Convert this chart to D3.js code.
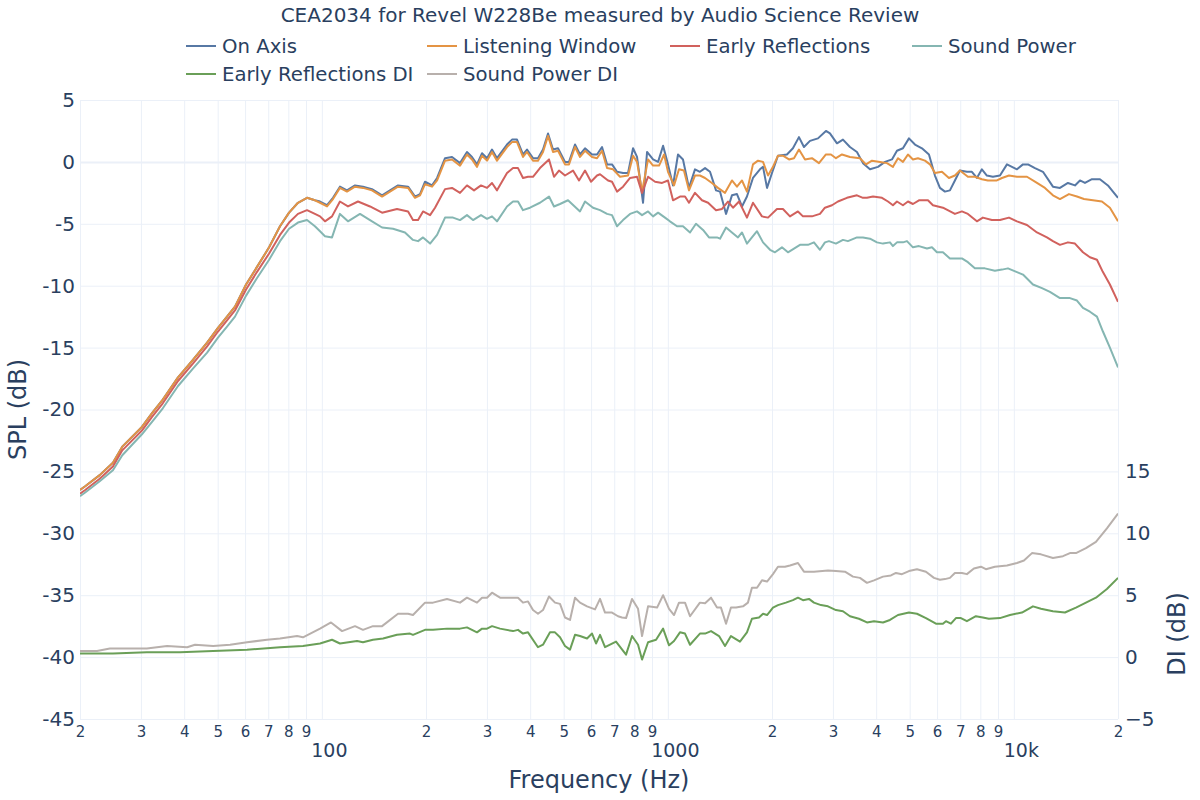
<!DOCTYPE html>
<html>
<head>
<meta charset="utf-8">
<script src="https://cdn.jsdelivr.net/npm/d3@7"></script>
<style>
  body { margin: 0; background: #fff; }
  text { font-family: "DejaVu Sans", Verdana, sans-serif; fill: #2a3f5f; }
</style>
</head>
<body>
<div id="chart"></div>
<script>
// Data (frequency Hz, dB)
const chartTitle = "CEA2034 for Revel W228Be measured by Audio Science Review";

const onAxis = [[20,-26.5],[20.7,-26.2],[22.8,-25.3],[24.9,-24.3],[26.5,-23.0],[30.2,-21.4],[32.3,-20.3],[34.7,-19.2],[38.4,-17.4],[42.4,-16.0],[46.6,-14.6],[50.1,-13.4],[53.2,-12.5],[56.1,-11.7],[60.4,-9.9],[64.9,-8.5],[70.4,-6.9],[75.7,-5.2],[80.4,-4.1],[85.3,-3.3],[90.6,-2.9],[95.5,-3.1],[98.8,-3.2],[103.5,-3.5],[107.7,-2.9],[112.8,-2.0],[118.2,-2.3],[124.7,-1.9],[131.5,-2.0],[139.6,-2.2],[149.3,-2.7],[157.4,-2.3],[166,-1.9],[177.5,-2.0],[185.9,-2.8],[192.2,-2.6],[198.7,-1.6],[208.2,-1.9],[215.3,-1.3],[227,0.3],[237.8,0.4],[250.8,-0.1],[262.7,0.8],[271.6,0.4],[280.8,-0.2],[290.4,0.7],[300.2,0.3],[310.3,1.0],[320.8,0.3],[342.9,1.4],[354.5,1.8],[366.5,1.8],[381.4,0.6],[391.7,1.0],[407.6,0.3],[421.4,0.3],[435.7,1.0],[450.5,2.3],[465.7,1.0],[481.4,1.1],[504.4,0.0],[518,0.0],[539.1,1.4],[557.4,0.6],[576.3,1.1],[603.8,0.6],[624.2,0.6],[645.3,1.2],[667.2,-0.2],[689.7,-0.2],[713.1,-0.8],[742.2,-0.9],[767.3,-0.9],[793.3,1.1],[814.6,0.4],[847.9,-3.3],[870.8,0.8],[906.3,0.2],[937,0.0],[968.8,1.3],[1001,-0.2],[1035,-1.9],[1070,0.6],[1106,0.2],[1151,-2.1],[1198,-0.6],[1238,-0.8],[1281,-0.5],[1324,-0.8],[1378,-2.3],[1415,-2.4],[1473,-4.2],[1532,-2.7],[1584,-2.6],[1638,-3.6],[1693,-2.8],[1762,-1.3],[1846,-0.6],[1884,-0.4],[1935,-2.1],[2000,-0.9],[2081,0.5],[2209,0.6],[2299,1.1],[2393,2.0],[2474,1.2],[2575,1.7],[2716,1.9],[2864,2.5],[2941,2.3],[3082,1.5],[3207,1.8],[3360,1.2],[3520,0.8],[3664,-0.1],[3839,-0.6],[4049,-0.4],[4242,0.0],[4444,0.2],[4594,0.9],[4781,1.1],[4976,1.9],[5179,1.4],[5425,1.1],[5684,0.6],[5915,-1.1],[6115,-2.1],[6322,-2.4],[6535,-2.3],[6756,-1.5],[6984,-0.7],[7317,-0.8],[7564,-0.8],[7820,-1.3],[8084,-0.6],[8357,-1.1],[8698,-1.2],[9118,-1.1],[9553,-0.2],[10210,-0.6],[10626,-0.2],[10986,-0.2],[11509,-0.5],[12138,-0.8],[12971,-2.0],[13591,-2.1],[14335,-1.7],[15019,-1.9],[15527,-1.5],[16053,-1.7],[16816,-1.4],[17734,-1.4],[18702,-1.9],[20000,-2.9]];

const listeningWindow = [[20,-26.5],[20.7,-26.2],[22.8,-25.3],[24.9,-24.3],[26.5,-23.0],[30.2,-21.4],[32.3,-20.3],[34.7,-19.2],[38.4,-17.4],[42.4,-16.0],[46.6,-14.6],[50.1,-13.4],[53.2,-12.5],[56.1,-11.7],[60.4,-9.9],[64.9,-8.5],[70.4,-6.9],[75.7,-5.2],[80.4,-4.1],[85.3,-3.3],[90.6,-2.9],[95.5,-3.1],[98.8,-3.3],[103.5,-3.6],[107.7,-3.0],[112.8,-2.1],[118.2,-2.4],[124.7,-2.0],[131.5,-2.1],[139.6,-2.3],[149.3,-2.8],[157.4,-2.4],[166,-2.0],[177.5,-2.1],[185.9,-2.9],[192.2,-2.7],[198.7,-1.8],[208.2,-2.0],[215.3,-1.5],[227,0.1],[237.8,0.2],[250.8,-0.3],[262.7,0.6],[271.6,0.2],[280.8,-0.4],[290.4,0.5],[300.2,0.1],[310.3,0.8],[320.8,0.1],[342.9,1.2],[354.5,1.6],[366.5,1.6],[381.4,0.4],[391.7,0.8],[407.6,0.1],[421.4,0.1],[435.7,0.8],[450.5,2.1],[465.7,0.8],[481.4,0.9],[504.4,-0.2],[518,-0.2],[539.1,1.2],[557.4,0.4],[576.3,0.9],[603.8,0.4],[624.2,0.3],[645.3,0.9],[667.2,-0.5],[694.3,-0.6],[727.5,-1.2],[767.3,-1.1],[793.3,0.5],[814.6,0.0],[842.2,-2.4],[876.6,0.2],[906.3,-0.3],[943.2,-0.3],[975.3,0.6],[1001,-0.8],[1042,-1.9],[1077,-0.6],[1113,-0.7],[1151,-2.3],[1198,-1.1],[1238,-1.1],[1281,-1.3],[1341,-1.7],[1396,-2.1],[1463,-2.5],[1532,-1.5],[1584,-2.0],[1638,-1.5],[1693,-2.4],[1762,-0.2],[1822,0.1],[1884,0.0],[1948,-1.1],[2013,-0.4],[2081,0.5],[2151,0.5],[2239,0.2],[2315,0.3],[2393,1.0],[2491,0.2],[2609,0.3],[2734,-0.1],[2864,0.6],[2961,0.6],[3061,0.3],[3186,0.6],[3360,0.4],[3591,0.3],[3738,-0.2],[3891,0.1],[4103,0.0],[4299,-0.1],[4473,-0.4],[4625,0.3],[4781,0.0],[4943,0.6],[5110,0.2],[5283,0.3],[5535,0.1],[5722,-0.2],[5915,-0.9],[6197,-0.8],[6492,-1.3],[6756,-1.1],[6984,-0.7],[7366,-1.2],[7717,-1.2],[8084,-1.4],[8413,-1.5],[8932,-1.5],[9240,-1.3],[9681,-1.1],[10210,-1.2],[10913,-1.2],[11663,-1.7],[12299,-2.1],[12971,-2.7],[13591,-3.0],[14431,-2.6],[15220,-2.8],[15946,-3.0],[16928,-3.1],[17972,-3.2],[18951,-3.7],[20000,-4.8]];

const earlyReflections = [[20,-26.8],[20.7,-26.5],[22.8,-25.6],[24.9,-24.6],[26.5,-23.3],[30.2,-21.7],[32.3,-20.6],[34.7,-19.5],[38.4,-17.7],[42.4,-16.3],[46.6,-14.9],[50.1,-13.7],[53.2,-12.8],[56.1,-12.0],[60.4,-10.3],[64.9,-8.9],[70.4,-7.4],[75.7,-5.9],[80.4,-4.9],[85.3,-4.2],[90.6,-3.9],[95.5,-4.2],[98.8,-4.4],[102.1,-4.8],[107,-4.4],[112.8,-3.2],[119,-3.6],[127.2,-3.2],[137.8,-3.6],[149.3,-4.1],[164.9,-3.8],[177.5,-4.0],[183.4,-4.7],[189.7,-4.7],[196.1,-4.0],[205.5,-4.3],[212.4,-3.7],[227,-2.2],[237.8,-2.1],[250.8,-2.5],[262.7,-1.9],[275.3,-2.3],[288.4,-1.9],[300.2,-2.1],[310.3,-1.7],[320.8,-2.3],[342.9,-0.9],[356.9,-0.5],[368.9,-0.5],[381.4,-1.3],[394.3,-1.2],[407.6,-1.2],[427,-0.5],[453.5,0.2],[468.8,-1.2],[484.6,-0.7],[504.4,-1.1],[532,-0.7],[553.7,-1.5],[576.3,-0.7],[599.8,-1.6],[624.2,-1.1],[636.8,-1.0],[671.6,-1.5],[689.7,-1.6],[713.1,-2.4],[742.2,-2.0],[777.6,-1.3],[814.6,-1.2],[842.2,-2.5],[876.6,-1.2],[918.4,-1.6],[962.3,-1.7],[1001,-1.5],[1035,-3.1],[1084,-2.8],[1121,-2.8],[1151,-3.3],[1198,-2.5],[1255,-3.1],[1307,-3.3],[1378,-3.9],[1434,-3.8],[1492,-3.2],[1543,-3.7],[1606,-3.2],[1693,-4.5],[1762,-3.3],[1871,-4.4],[1948,-4.5],[2067,-3.8],[2151,-3.8],[2254,-4.4],[2377,-4.0],[2458,-4.4],[2609,-4.4],[2752,-4.2],[2845,-3.7],[2981,-3.5],[3102,-3.2],[3293,-2.9],[3520,-2.7],[3664,-2.9],[3763,-2.9],[3917,-2.8],[4158,-2.9],[4327,-3.2],[4473,-3.5],[4594,-3.2],[4781,-3.5],[4943,-3.2],[5110,-3.4],[5318,-3.1],[5646,-3.1],[5837,-3.5],[6238,-3.7],[6756,-4.2],[7078,-4.0],[7366,-4.2],[7820,-4.8],[8138,-4.5],[8640,-4.7],[9118,-4.7],[9681,-4.5],[10210,-4.8],[10913,-5.1],[11663,-5.7],[12464,-6.1],[12971,-6.4],[13591,-6.7],[14335,-6.5],[15019,-6.6],[15840,-7.3],[16594,-7.7],[17385,-7.9],[18092,-8.9],[18951,-9.9],[20000,-11.3]];

const soundPower = [[20,-27.0],[20.7,-26.7],[22.8,-25.8],[24.9,-24.9],[26.5,-23.7],[30.2,-22.0],[32.3,-21.0],[34.7,-19.9],[38.4,-18.1],[42.4,-16.7],[46.6,-15.4],[50.1,-14.2],[53.2,-13.3],[56.1,-12.5],[60.4,-10.8],[64.9,-9.4],[70.4,-7.9],[75.7,-6.4],[80.4,-5.4],[85.3,-4.9],[90.6,-4.7],[95.5,-5.2],[98.8,-5.6],[102.1,-6.0],[107,-6.1],[112.8,-4.2],[119,-4.8],[128.9,-4.2],[137.8,-4.7],[149.3,-5.3],[160.6,-5.4],[173.9,-5.7],[183.4,-6.3],[189.7,-6.4],[196.1,-6.1],[205.5,-6.6],[215.3,-5.9],[227,-4.5],[239.4,-4.5],[250.8,-4.7],[262.7,-4.3],[273.5,-4.7],[288.4,-4.3],[300.2,-4.6],[310.3,-4.4],[320.8,-4.8],[342.9,-3.6],[356.9,-3.2],[368.9,-3.2],[381.4,-3.9],[399.6,-3.7],[427,-3.3],[453.5,-2.8],[468.8,-3.6],[487.9,-3.4],[514.6,-3.1],[557.4,-4.0],[576.3,-3.2],[607.8,-3.7],[636.8,-3.9],[667.2,-4.2],[689.7,-4.3],[713.1,-5.2],[742.2,-4.7],[777.6,-4.2],[814.6,-4.0],[842.2,-4.3],[876.6,-4.0],[906.3,-4.4],[937,-4.1],[981.3,-4.5],[1014,-4.8],[1063,-5.2],[1106,-5.2],[1159,-5.7],[1206,-5.0],[1264,-5.5],[1315,-6.1],[1387,-6.1],[1415,-6.2],[1473,-5.3],[1532,-5.7],[1595,-6.1],[1638,-5.7],[1693,-6.6],[1750,-6.1],[1810,-5.6],[1884,-6.5],[1974,-7.1],[2040,-7.3],[2137,-6.9],[2224,-7.3],[2315,-7.0],[2409,-6.7],[2541,-6.7],[2644,-6.5],[2752,-7.1],[2845,-6.5],[2922,-6.4],[3061,-6.6],[3207,-6.3],[3315,-6.4],[3520,-6.1],[3664,-6.1],[3839,-6.2],[4022,-6.5],[4186,-6.6],[4385,-6.5],[4473,-6.8],[4594,-6.5],[4781,-6.5],[4910,-6.4],[5110,-6.9],[5318,-6.8],[5609,-7.0],[5798,-6.9],[5994,-7.3],[6238,-7.3],[6535,-7.8],[6846,-7.8],[7078,-7.8],[7366,-8.1],[7717,-8.6],[8247,-8.6],[8814,-8.8],[9240,-8.7],[9617,-8.6],[10210,-8.9],[10626,-9.1],[11357,-9.9],[12058,-10.2],[12715,-10.5],[13591,-11.0],[14527,-11.0],[15220,-11.2],[15840,-11.8],[16594,-12.1],[17385,-12.5],[18092,-13.7],[18951,-15.0],[20000,-16.6]];

const earlyReflectionsDI = [[20,0.3],[24.9,0.3],[31.2,0.4],[38.9,0.4],[48.5,0.5],[60.8,0.6],[75.7,0.8],[88.2,0.9],[98.8,1.1],[107,1.4],[112.8,1.1],[126.4,1.3],[131.5,1.2],[140.5,1.4],[150.3,1.5],[164.9,1.8],[179.8,1.9],[183.4,1.8],[198.7,2.2],[209.6,2.2],[230,2.3],[250.8,2.3],[262.7,2.4],[280.8,2.0],[290.4,2.3],[300.2,2.3],[310.3,2.5],[327.3,2.3],[356.9,2.1],[368.9,2.2],[381.4,1.9],[394.3,2.0],[421.4,0.8],[435.7,1.0],[456.5,2.0],[471.9,2.0],[487.9,1.6],[504.4,0.9],[521.5,0.6],[539.1,1.8],[557.4,1.7],[584.1,1.5],[603.8,1.9],[620.1,1.1],[636.8,1.8],[658.3,0.8],[708.3,1.25],[757.2,0.2],[788,1.7],[820.1,1.0],[842.2,-0.2],[876.6,1.2],[924.6,1.4],[968.8,2.3],[1008,0.95],[1042,1.3],[1084,2.0],[1121,1.9],[1159,1.0],[1238,1.9],[1281,1.9],[1333,2.1],[1406,1.7],[1463,0.9],[1522,1.7],[1616,1.25],[1693,2.0],[1750,3.1],[1834,3.2],[1884,3.5],[1935,3.4],[2013,4.0],[2081,4.2],[2194,4.4],[2299,4.6],[2377,4.8],[2458,4.6],[2558,4.7],[2644,4.4],[2771,4.2],[2902,4.1],[3061,3.8],[3207,3.7],[3360,3.3],[3567,3.1],[3763,2.8],[3943,2.9],[4186,2.8],[4385,3.0],[4625,3.4],[4976,3.6],[5248,3.5],[5572,3.15],[5954,2.7],[6238,2.7],[6364,2.9],[6579,2.7],[6801,3.15],[7031,3.15],[7317,2.9],[7768,3.3],[8138,3.2],[8469,3.1],[9118,3.15],[9746,3.4],[10556,3.6],[11357,4.1],[11978,3.9],[12971,3.7],[14052,3.6],[15119,4.0],[16160,4.4],[17270,4.8],[18578,5.5],[20000,6.4]];

const soundPowerDI = [[20,0.5],[22.4,0.5],[24.4,0.7],[27.9,0.7],[31.2,0.7],[35.7,0.9],[40.8,0.8],[43,1.0],[48.5,0.9],[54.3,1.0],[60.8,1.2],[69.4,1.4],[75.7,1.5],[84.8,1.7],[88.2,1.6],[98.8,2.3],[106.3,2.8],[114.4,2.1],[124.7,2.5],[131.5,2.2],[140.5,2.5],[149.3,2.5],[166,3.5],[177.5,3.5],[183.4,3.4],[198.7,4.4],[209.6,4.4],[230,4.7],[250.8,4.4],[262.7,4.8],[280.8,4.4],[290.4,4.8],[300.2,4.8],[310.3,5.2],[327.3,4.8],[356.9,4.8],[368.9,4.8],[381.4,4.4],[394.3,4.5],[407.6,3.8],[421.4,3.5],[435.7,3.8],[453.5,4.9],[471.9,4.4],[487.9,4.3],[504.4,3.2],[521.5,3.0],[539.1,4.8],[557.4,4.4],[584.1,4.1],[616,3.85],[636.8,4.7],[658.3,3.6],[689.7,3.6],[717.8,3.3],[737.2,3.2],[757.2,3.15],[788,4.7],[820.1,3.9],[842.2,1.7],[876.6,4.1],[930.8,4.0],[968.8,5.0],[1008,3.9],[1042,3.4],[1077,4.4],[1121,4.4],[1159,3.3],[1238,4.4],[1281,4.35],[1333,4.8],[1387,4.0],[1424,4.0],[1473,2.7],[1522,4.0],[1574,4.0],[1649,4.1],[1704,4.4],[1750,5.6],[1810,5.6],[1871,6.2],[1935,6.1],[2013,6.7],[2081,7.3],[2180,7.3],[2254,7.4],[2377,7.6],[2474,6.9],[2644,6.9],[2902,7.0],[3061,6.95],[3250,6.9],[3428,6.5],[3591,6.4],[3763,6.0],[3943,6.2],[4186,6.5],[4414,6.6],[4563,6.8],[4749,6.7],[4976,6.95],[5248,7.1],[5572,6.9],[5876,6.4],[6115,6.25],[6322,6.3],[6535,6.4],[6756,6.8],[7078,6.8],[7317,6.7],[7666,7.15],[8031,7.3],[8302,7.1],[8814,7.3],[9553,7.4],[10210,7.6],[10697,7.8],[11282,8.4],[11978,8.3],[12971,8.0],[13866,8.15],[14527,8.4],[15119,8.4],[16160,8.8],[17270,9.3],[18578,10.4],[20000,11.6]];

const seriesNames = ["On Axis", "Listening Window", "Early Reflections", "Sound Power", "Early Reflections DI", "Sound Power DI"];
const seriesData = [onAxis, listeningWindow, earlyReflections, soundPower, earlyReflectionsDI, soundPowerDI];
const seriesAxis = ["spl", "spl", "spl", "spl", "di", "di"];
const seriesColors = ["#5778a4", "#e49444", "#d1615d", "#85b6b2", "#6a9f58", "#b8b0ac"];

const splTicks = [-45, -40, -35, -30, -25, -20, -15, -10, -5, 0, 5];
const diTicks = [-5, 0, 5, 10, 15];
const minorTicks = [20, 30, 40, 50, 60, 70, 80, 90, 200, 300, 400, 500, 600, 700, 800, 900,
  2000, 3000, 4000, 5000, 6000, 7000, 8000, 9000, 20000];
const majorTicks = [100, 1000, 10000];
const majorLabels = ["100", "1000", "10k"];

// Dimensions
const width = 1200;
const height = 800;
const margin = { top: 100, right: 82, bottom: 81, left: 80 };
const ctrWidth = width - margin.left - margin.right;
const ctrHeight = height - margin.top - margin.bottom;

const svg = d3.select("#chart").append("svg")
  .attr("width", width)
  .attr("height", height)
  .style("background", "#fff");

const ctr = svg.append("g")
  .attr("transform", `translate(${margin.left}, ${margin.top})`);

// Scales
const xScale = d3.scaleLog().domain([20, 20000]).range([0, ctrWidth]);
const ySpl = d3.scaleLinear().domain([-45, 5]).range([ctrHeight, 0]);
const yDi = d3.scaleLinear().domain([-5, 45]).range([ctrHeight, 0]);

// Grid
const gridColor = "#ebf0f8";
const xGrid = ctr.append("g")
  .attr("transform", `translate(0, ${ctrHeight})`)
  .call(d3.axisBottom(xScale).tickValues(minorTicks.concat(majorTicks)).tickSize(-ctrHeight).tickFormat(""));
const yGrid = ctr.append("g")
  .call(d3.axisLeft(ySpl).tickValues(splTicks).tickSize(-ctrWidth).tickFormat(""));
[xGrid, yGrid].forEach((g) => {
  g.select(".domain").remove();
  g.selectAll("line").attr("stroke", gridColor).attr("stroke-width", 1);
});
yGrid.selectAll(".tick").filter((d) => d === 0).select("line").attr("stroke-width", 2);

// Lines
svg.append("clipPath").attr("id", "plot-clip")
  .append("rect").attr("width", ctrWidth).attr("height", ctrHeight);

const linesG = ctr.append("g").attr("clip-path", "url(#plot-clip)");
seriesData.forEach((data, i) => {
  const yScale = seriesAxis[i] === "spl" ? ySpl : yDi;
  const lineGenerator = d3.line()
    .x((d) => xScale(d[0]))
    .y((d) => yScale(d[1]));
  linesG.append("path")
    .datum(data)
    .attr("d", lineGenerator)
    .attr("fill", "none")
    .attr("stroke", seriesColors[i])
    .attr("stroke-width", 2)
    .attr("stroke-linejoin", "round");
});

// Axes
const yAxisGroup = ctr.append("g")
  .call(d3.axisLeft(ySpl).tickValues(splTicks).tickSize(0).tickPadding(5));
const diAxisGroup = ctr.append("g")
  .attr("transform", `translate(${ctrWidth}, 0)`)
  .call(d3.axisRight(yDi).tickValues(diTicks).tickSize(0).tickPadding(7));
const xMinorGroup = ctr.append("g")
  .attr("transform", `translate(0, ${ctrHeight})`)
  .call(d3.axisBottom(xScale).tickValues(minorTicks).tickSize(0).tickPadding(7)
    .tickFormat((d) => String(d).charAt(0)));
const xMajorGroup = ctr.append("g")
  .attr("transform", `translate(0, ${ctrHeight})`)
  .call(d3.axisBottom(xScale).tickValues(majorTicks).tickSize(0).tickPadding(25)
    .tickFormat((d, i) => majorLabels[i]));

[yAxisGroup, diAxisGroup, xMinorGroup, xMajorGroup].forEach((g) => {
  g.select(".domain").remove();
  g.selectAll("text").attr("fill", "#2a3f5f").style("font-family", '"DejaVu Sans", Verdana, sans-serif');
});
yAxisGroup.selectAll("text").style("font-size", "20px").text((d) => d);
diAxisGroup.selectAll("text").style("font-size", "20px");
xMinorGroup.selectAll("text").style("font-size", "15px");
xMajorGroup.selectAll("text").style("font-size", "19px").attr("dx", 7);

// Axis titles
svg.append("text")
  .attr("transform", `translate(18, ${margin.top + ctrHeight / 2}) rotate(-90)`)
  .attr("text-anchor", "middle")
  .attr("dominant-baseline", "central")
  .style("font-size", "24px")
  .text("SPL (dB)");

svg.append("text")
  .attr("transform", `translate(1177, 634) rotate(-90)`)
  .attr("text-anchor", "middle")
  .attr("dominant-baseline", "central")
  .style("font-size", "24px")
  .text("DI (dB)");

svg.append("text")
  .attr("x", margin.left + ctrWidth / 2)
  .attr("y", 780)
  .attr("text-anchor", "middle")
  .attr("dominant-baseline", "central")
  .style("font-size", "24px")
  .text("Frequency (Hz)");

// Title
svg.append("text")
  .attr("x", 600)
  .attr("y", 15)
  .attr("text-anchor", "middle")
  .attr("dominant-baseline", "central")
  .style("font-size", "20px")
  .text(chartTitle);

// Legend
const legendCols = [186, 427, 670, 912];
const legendRows = [46, 74];
const legend = svg.append("g");
seriesNames.forEach((name, i) => {
  const cx = legendCols[i % 4];
  const cy = legendRows[Math.floor(i / 4)];
  const item = legend.append("g").attr("transform", `translate(${cx}, ${cy})`);
  item.append("line")
    .attr("x1", 0).attr("x2", 30)
    .attr("stroke", seriesColors[i])
    .attr("stroke-width", 2);
  item.append("text")
    .attr("x", 36)
    .attr("dominant-baseline", "central")
    .style("font-size", "19.7px")
    .text(name);
});
</script>
</body>
</html>
